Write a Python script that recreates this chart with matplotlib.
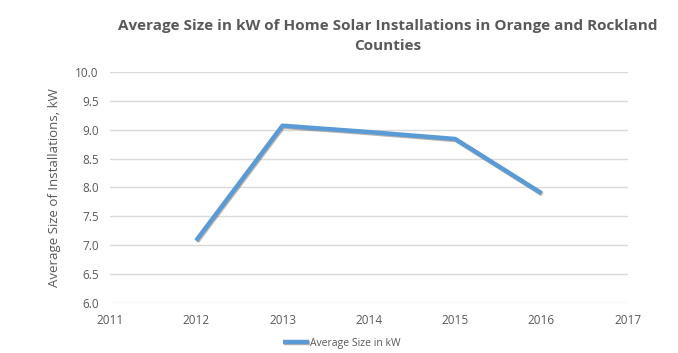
import matplotlib
matplotlib.use("Agg")
import matplotlib.pyplot as plt
import matplotlib.patheffects as pe

years = [2012, 2013, 2014, 2015, 2016]
avg_size = [7.08, 9.07, 8.96, 8.84, 7.90]
x_ticks = [2011, 2012, 2013, 2014, 2015, 2016, 2017]
y_ticks = [6.0, 6.5, 7.0, 7.5, 8.0, 8.5, 9.0, 9.5, 10.0]

gray = "#595959"
plt.rcParams['font.family'] = ['Open Sans', 'DejaVu Sans']

fig = plt.figure(figsize=(6.78, 3.53), dpi=100)
ax = fig.add_axes([0.162, 0.142, 0.764, 0.654])

ax.plot(years, avg_size, color="#5B9BD5", linewidth=3.2, solid_capstyle="butt",
        label="Average Size in kW",
        path_effects=[pe.SimpleLineShadow(offset=(0.6, -0.8), shadow_color="#6b5a4a", alpha=0.45),
                      pe.Normal()])

ax.set_xlim(2011, 2017)
ax.set_ylim(6.0, 10.0)
ax.set_xticks(x_ticks)
ax.set_xticklabels([str(t) for t in x_ticks])
ax.set_yticks(y_ticks)
ax.set_yticklabels([f"{t:.1f}" for t in y_ticks])
ax.grid(axis="y", color="#d9d9d9", linewidth=1)
ax.set_axisbelow(True)
for s in ax.spines.values():
    s.set_visible(False)
ax.tick_params(length=0, colors=gray, labelsize=8.5, pad=8)
ax.set_ylabel("Average Size of Installations, kW", color=gray, fontsize=9.5, labelpad=10)

fig.suptitle("Average Size in kW of Home Solar Installations in Orange and Rockland\nCounties",
             x=0.572, y=0.945, fontsize=11.0, fontweight="bold", color=gray, linespacing=1.5)

leg = fig.legend(loc="center", bbox_to_anchor=(0.504, 0.028), frameon=False, fontsize=7.5,
                 handlelength=2.5, handletextpad=0.1)
for t in leg.get_texts():
    t.set_color(gray)

fig.savefig("out.png", dpi=100)
